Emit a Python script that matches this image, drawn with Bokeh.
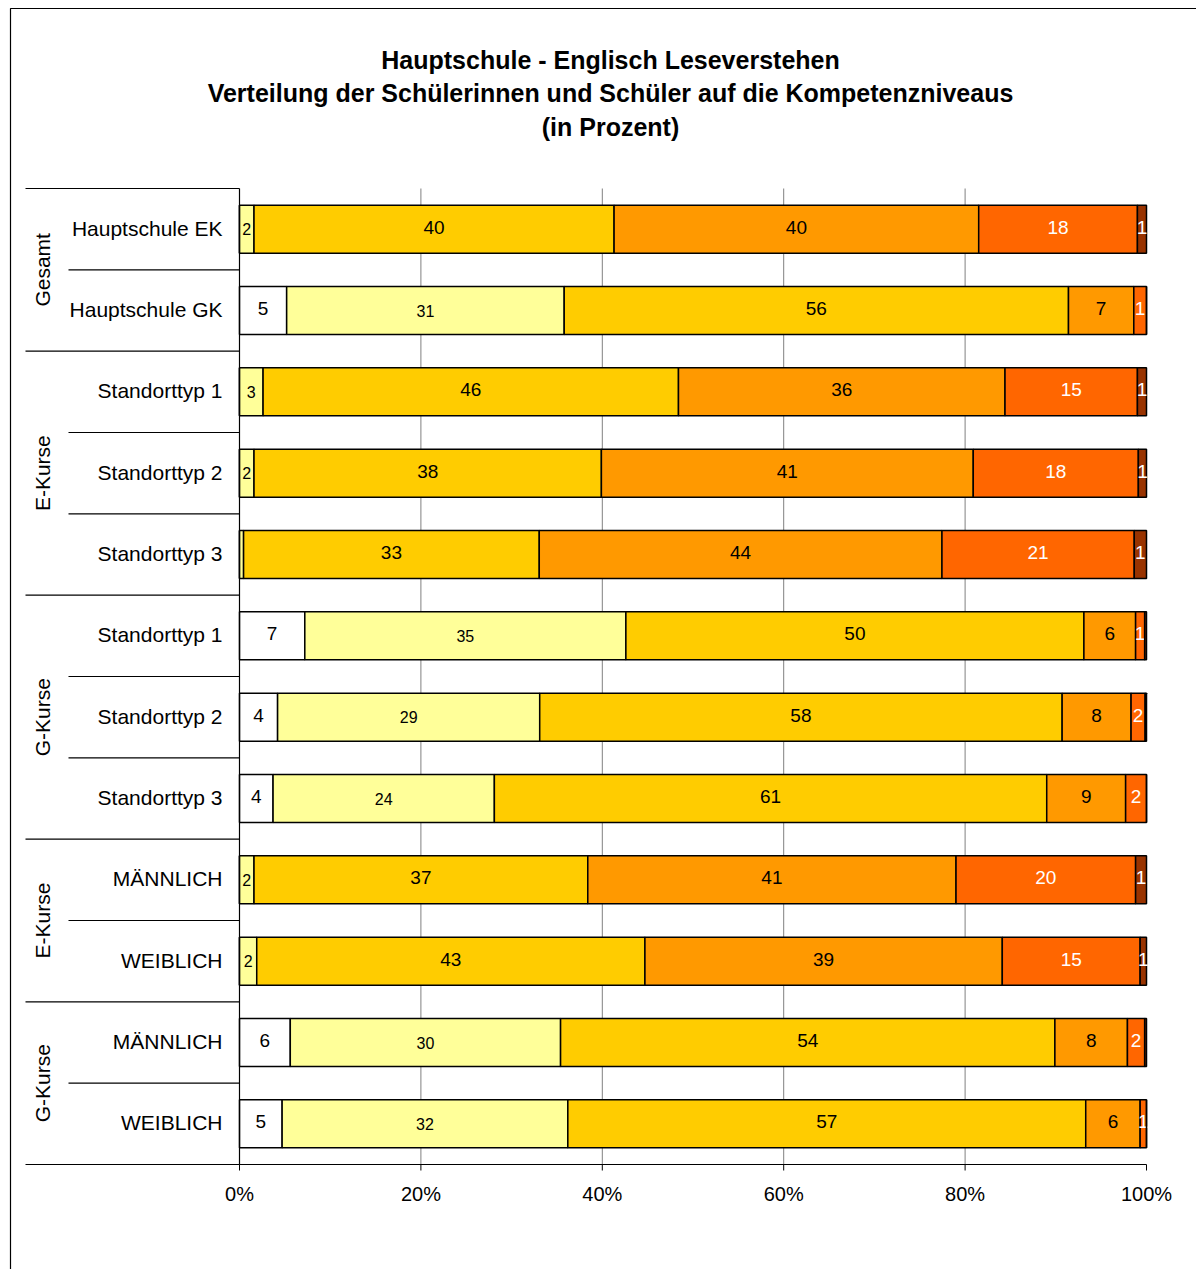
from bokeh.plotting import figure
from bokeh.models import Range1d, ColumnDataSource
from bokeh.core.properties import value
from bokeh.embed import file_html
from bokeh.resources import INLINE

# ---------------- data ----------------
categories = ["Hauptschule EK", "Hauptschule GK",
              "Standorttyp 1", "Standorttyp 2", "Standorttyp 3",
              "Standorttyp 1", "Standorttyp 2", "Standorttyp 3",
              "MÄNNLICH", "WEIBLICH", "MÄNNLICH", "WEIBLICH"]
groups = ["Gesamt", "E-Kurse", "G-Kurse", "E-Kurse", "G-Kurse"]
group_sizes = [2, 3, 3, 2, 2]

niveau_1 = [0.0, 5.2, 0.0, 0.0, 0.0, 7.2, 4.2, 3.7, 0.0, 0.0, 5.6, 4.7]
niveau_2 = [1.6, 30.6, 2.6, 1.6, 0.45, 35.4, 28.9, 24.4, 1.6, 1.9, 29.8, 31.5]
niveau_3 = [39.7, 55.6, 45.8, 38.3, 32.6, 50.5, 57.6, 60.9, 36.8, 42.8, 54.5, 57.1]
niveau_4 = [40.2, 7.2, 36.0, 41.0, 44.4, 5.7, 7.6, 8.7, 40.6, 39.4, 8.0, 6.0]
niveau_5 = [17.5, 1.4, 14.6, 18.2, 21.2, 1.0, 1.55, 2.3, 19.8, 15.2, 1.9, 0.7]
niveau_6 = [1.0, 0.0, 1.0, 0.9, 1.35, 0.2, 0.15, 0.0, 1.2, 0.7, 0.2, 0.0]
series = [niveau_1, niveau_2, niveau_3, niveau_4, niveau_5, niveau_6]

tick_values = [0, 20, 40, 60, 80, 100]
tick_labels = ["0%", "20%", "40%", "60%", "80%", "100%"]

title_lines = ["Hauptschule - Englisch Leseverstehen",
               "Verteilung der Schülerinnen und Schüler auf die Kompetenzniveaus",
               "(in Prozent)"]

colors = ["#FFFFFF", "#FFFF99", "#FFCC00", "#FF9900", "#FF6600", "#993300"]
label_colors = ["black", "black", "black", "black", "white", "white"]
label_sizes = ["19px", "16px", "19px", "19px", "19px", "19px"]
label_dy = [-2, 0, -2, -2, -2, -2]

# ---------------- geometry (pixel mapping) ----------------
W, H = 1196, 1269
PX0, PX100 = 239.0, 1146.0
PY_TOP, PY_BOT = 188.0, 1164.0
n = len(categories)
sx = (PX100 - PX0) / 100.0
row_h = (PY_BOT - PY_TOP) / n


def xd(px):
    return (px - PX0) / sx


def yd(py):
    return (py - PY_TOP) / row_h - 0.5


FONT = "Liberation Sans"

p = figure(width=W, height=H, output_backend="svg", toolbar_location=None,
           x_range=Range1d(xd(0), xd(W)), y_range=Range1d(yd(H), yd(0)),
           min_border=0, outline_line_color=None)
p.xaxis.visible = False
p.yaxis.visible = False
p.xgrid.visible = False
p.ygrid.visible = False
p.background_fill_color = "white"
p.border_fill_color = "white"

rows = list(range(n))

# outer frame (top and left)
p.line([xd(10), xd(10), xd(W + 5)], [yd(H + 5), yd(8), yd(8)],
       line_color="black", line_width=1.2)

# gridlines
for t in tick_values[1:-1]:
    p.line([t, t], [-0.5, n - 0.5], line_color="#808080", line_width=1)

# stacked bars
left = [0.0] * n
for k, s in enumerate(series):
    right = [l + v for l, v in zip(left, s)]
    src = ColumnDataSource(dict(y=rows, left=left, right=right))
    p.hbar(y="y", left="left", right="right", height=0.59, source=src,
           fill_color=colors[k], line_color="black", line_width=1.5)
    lx, ly, lt = [], [], []
    for i in range(n):
        r = round(s[i])
        if r >= 1:
            lx.append((left[i] + right[i]) / 2)
            ly.append(i)
            lt.append(str(r))
    p.text(x=lx, y=ly, text=lt, text_align="center", text_baseline="middle",
           text_color=label_colors[k], text_font=value(FONT),
           text_font_size=label_sizes[k], y_offset=label_dy[k])
    left = right

# axes lines
p.line([0, 100], [n - 0.5, n - 0.5], line_color="black", line_width=1.2)
p.line([0, 0], [-0.5, n - 0.5], line_color="black", line_width=1.2)
for t in tick_values:
    p.line([t, t], [n - 0.5, yd(PY_BOT + 6)], line_color="black", line_width=1)
p.text(x=tick_values, y=[yd(1193)] * len(tick_values), text=tick_labels,
       text_align="center", text_baseline="middle", text_color="black",
       text_font=value(FONT), text_font_size="20px")

# category hierarchy lines
bounds = [-0.5]
acc = 0
for g in group_sizes:
    acc += g
    bounds.append(acc - 0.5)
for b in bounds:
    p.line([xd(25), 0], [b, b], line_color="black", line_width=1.2)
acc = 0
for g in group_sizes:
    for j in range(1, g):
        b = acc + j - 0.5
        p.line([xd(68), 0], [b, b], line_color="black", line_width=1.2)
    acc += g

# category labels
p.text(x=[xd(222)] * n, y=rows, text=categories, text_align="right",
       text_baseline="middle", text_color="black", text_font=value(FONT),
       text_font_size="21px", y_offset=-1)

# group labels (rotated)
acc = 0
gy = []
for g in group_sizes:
    gy.append(acc + g / 2 - 0.5)
    acc += g
p.text(x=[xd(42)] * len(groups), y=gy, text=groups, angle=1.5708,
       text_align="center", text_baseline="middle", text_color="black",
       text_font=value(FONT), text_font_size="21px")

# title
p.text(x=[xd(610)] * 3, y=[yd(59), yd(92), yd(126)], text=title_lines,
       text_align="center", text_baseline="middle", text_color="black",
       text_font=value(FONT), text_font_size="25px", text_font_style="bold")

open("out.html", "w").write(file_html(p, INLINE))
